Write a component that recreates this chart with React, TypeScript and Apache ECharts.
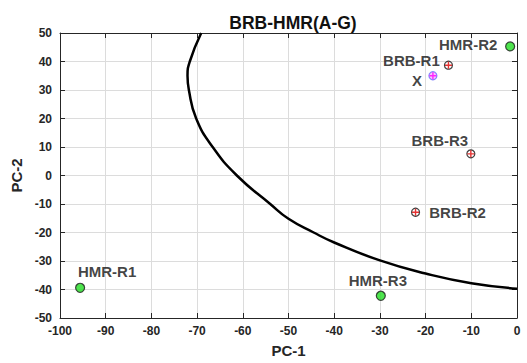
import React, { useEffect, useRef } from "react";
import * as echarts from "echarts";

const hmrNames = ["HMR-R1", "HMR-R2", "HMR-R3"];
const hmrPC1 = [-95.6, -1.5, -29.8];
const hmrPC2 = [-39.4, 45.3, -42.2];

const brbNames = ["BRB-R1", "BRB-R2", "BRB-R3"];
const brbPC1 = [-15.0, -22.2, -10.1];
const brbPC2 = [38.7, -12.9, 7.6];

const xName = ["X"];
const xPC1 = [-18.4];
const xPC2 = [35.0];

const ellipsePC1 = [-69.1, -71.6, -72.1, -71.8, -70.2, -66.6, -61.3, -54, -50, -44.5, -40, -30, -20, -10, 0];
const ellipsePC2 = [50, 40, 35, 30, 20, 10, 0, -10, -15.2, -20, -23.5, -29.8, -34.4, -37.8, -39.7];

const xTicks = { min: -100, max: 0, interval: 10 };
const yTicks = { min: -50, max: 50, interval: 10 };

// label offsets (pixels) relative to marker centre
const hmrLabelOffsets = [[27, -16], [-42, -2], [-3, -15]];
const brbLabelOffsets = [[-37, -5], [42, 0], [-31, -13]];
const xLabelOffsets = [[-16, 5]];

const PLUS = "path://M4,0h2v10h-2z M0,4h10v2h-10z";
const TXT = "#262626";

export default function App() {
  const ref = useRef<HTMLDivElement>(null);
  useEffect(() => {
    if (!ref.current) return;
    const chart = echarts.init(ref.current, null, { renderer: "svg" });
    const font = "Liberation Sans, Arial, sans-serif";
    const labelStyle = { fontFamily: font, fontWeight: "bold" as const, fontSize: 15, color: "#111" };
    const mk = (names: string[], xs: number[], ys: number[], offs: number[][]) =>
      names.map((n, i) => ({
        name: n,
        value: [xs[i], ys[i]],
        label: { show: true, position: "inside", offset: offs[i], formatter: n, ...labelStyle },
      }));
    const plain = (xs: number[], ys: number[]) => xs.map((x, i) => [x, ys[i]]);
    const axisCommon = {
      axisLine: { show: true, onZero: false, lineStyle: { color: TXT, width: 1 } },
      axisTick: { show: true, inside: true, length: 5, lineStyle: { color: TXT } },
    };
    const gridLine = { show: true, lineStyle: { color: "#dcdcdc", width: 1, type: "solid" as const } };
    chart.setOption({
      animation: false,
      backgroundColor: "#ffffff",
      title: {
        text: "BRB-HMR(A-G)",
        left: 288,
        top: 9,
        textAlign: "center",
        textStyle: { fontFamily: font, fontWeight: "bold", fontSize: 17.5, color: "#111" },
      },
      grid: { left: 60, right: 10, top: 33, bottom: 38 },
      xAxis: [
        {
          type: "value",
          ...xTicks,
          position: "bottom",
          name: "PC-1",
          nameLocation: "middle",
          nameGap: 25,
          nameTextStyle: { fontFamily: font, fontWeight: "bold", fontSize: 15, color: TXT },
          ...axisCommon,
          axisLabel: { fontFamily: font, fontWeight: "bold", fontSize: 12, color: TXT, margin: 7 },
          splitLine: gridLine,
        },
        {
          type: "value",
          ...xTicks,
          position: "top",
          ...axisCommon,
          axisLabel: { show: false },
          splitLine: { show: false },
        },
      ],
      yAxis: [
        {
          type: "value",
          ...yTicks,
          position: "left",
          name: "PC-2",
          nameLocation: "middle",
          nameGap: 29,
          nameRotate: 90,
          nameTextStyle: { fontFamily: font, fontWeight: "bold", fontSize: 15, color: TXT },
          ...axisCommon,
          axisLabel: { fontFamily: font, fontWeight: "bold", fontSize: 12, color: TXT, margin: 8 },
          splitLine: gridLine,
        },
        {
          type: "value",
          ...yTicks,
          position: "right",
          ...axisCommon,
          axisLabel: { show: false },
          splitLine: { show: false },
        },
      ],
      series: [
        {
          type: "line",
          data: plain(ellipsePC1, ellipsePC2),
          smooth: 0.5,
          showSymbol: false,
          symbol: "none",
          lineStyle: { color: "#000", width: 2.5 },
          clip: true,
          z: 3,
        },
        {
          type: "scatter",
          data: mk(hmrNames, hmrPC1, hmrPC2, hmrLabelOffsets),
          symbol: "circle",
          symbolSize: 9,
          itemStyle: { color: "#22dd22", borderColor: "#1a1a1a", borderWidth: 1.2 },
          z: 5,
        },
        {
          type: "scatter",
          data: mk(brbNames, brbPC1, brbPC2, brbLabelOffsets),
          symbol: "circle",
          symbolSize: 8,
          itemStyle: { color: "#ffffff", borderColor: "#111", borderWidth: 1.2 },
          z: 5,
        },
        {
          type: "scatter",
          data: plain(brbPC1, brbPC2),
          symbol: PLUS,
          symbolSize: 7,
          itemStyle: { color: "#e00000" },
          z: 6,
        },
        {
          type: "scatter",
          data: mk(xName, xPC1, xPC2, xLabelOffsets),
          symbol: "circle",
          symbolSize: 8,
          itemStyle: { color: "#ffb0ff", borderColor: "#6a6aff", borderWidth: 1.2 },
          z: 5,
        },
        {
          type: "scatter",
          data: plain(xPC1, xPC2),
          symbol: PLUS,
          symbolSize: 7,
          itemStyle: { color: "#ff00ff" },
          z: 6,
        },
      ],
    });
    return () => chart.dispose();
  }, []);
  return <div ref={ref} style={{ position: "fixed", left: 0, top: 0, width: 527, height: 363 }} />;
}
